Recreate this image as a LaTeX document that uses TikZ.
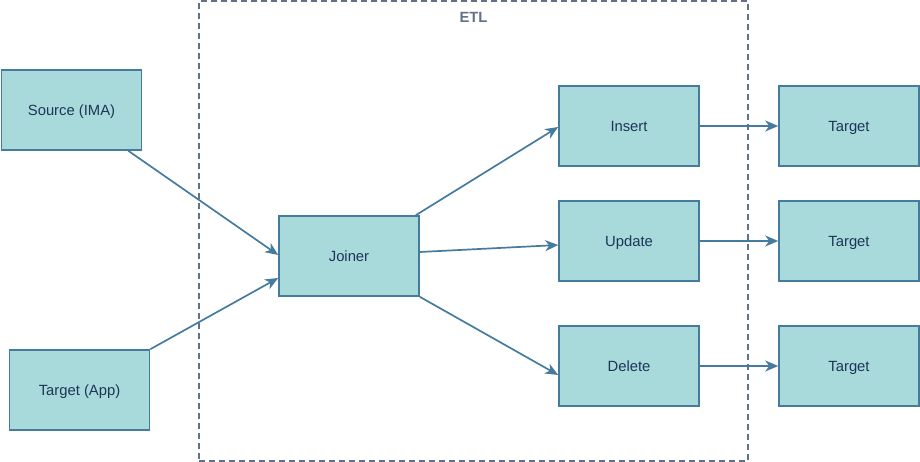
\documentclass[tikz,border=0pt]{standalone}
\usepackage{fontspec}
\setmainfont{Liberation Sans}
\usetikzlibrary{arrows.meta}
\definecolor{boxfill}{HTML}{A8DADC}
\definecolor{boxline}{HTML}{457B9D}
\definecolor{txt}{HTML}{1D3557}
\definecolor{etlc}{HTML}{607189}
\begin{document}
\begin{tikzpicture}[x=1pt,y=-1pt,
  box/.style={draw=boxline,fill=boxfill,line width=1.6pt,minimum width=140pt,minimum height=80pt,inner sep=0pt,text=txt,font=\fontsize{14.8}{17}\selectfont,text height=11pt,text depth=0pt},
  conn/.style={draw=boxline,line width=1.7pt,-{Stealth[length=13pt,width=11pt,inset=4pt]}}]
\useasboundingbox (0,0) rectangle (920,462);
\node[draw=etlc,dashed,line width=1.4pt,dash pattern=on 6pt off 4pt,minimum width=549pt,minimum height=460pt,inner sep=0pt] (etl) at (473.5,231) {};
\node[text=etlc,font=\bfseries\fontsize{14.8}{17}\selectfont,text height=11pt,text depth=0pt] (etllbl) at (473.5,17) {ETL};
\node[box] (src) at (71.5,110) {Source (IMA)};
\node[box] (tapp) at (79.5,390) {Target (App)};
\node[box] (join) at (349,256) {Joiner};
\node[box] (ins) at (629,126) {Insert};
\node[box] (upd) at (629,241) {Update};
\node[box] (del) at (629,366) {Delete};
\node[box] (t1) at (849,126) {Target};
\node[box] (t2) at (849,241) {Target};
\node[box] (t3) at (849,366) {Target};
\draw[conn] ([xshift=-14pt]src.south east) -- ([yshift=1pt]join.west);
\draw[conn] (tapp.north east) -- ([yshift=-22pt]join.west);
\draw[conn] ([xshift=-4pt]join.north east) -- ([yshift=-1pt]ins.west);
\draw[conn] ([yshift=4pt]join.east) -- ([yshift=-4pt]upd.west);
\draw[conn] (join.south east) -- ([yshift=-9pt]del.west);
\draw[conn] (ins) -- (t1);
\draw[conn] (upd) -- (t2);
\draw[conn] (del) -- (t3);
\end{tikzpicture}
\end{document}
